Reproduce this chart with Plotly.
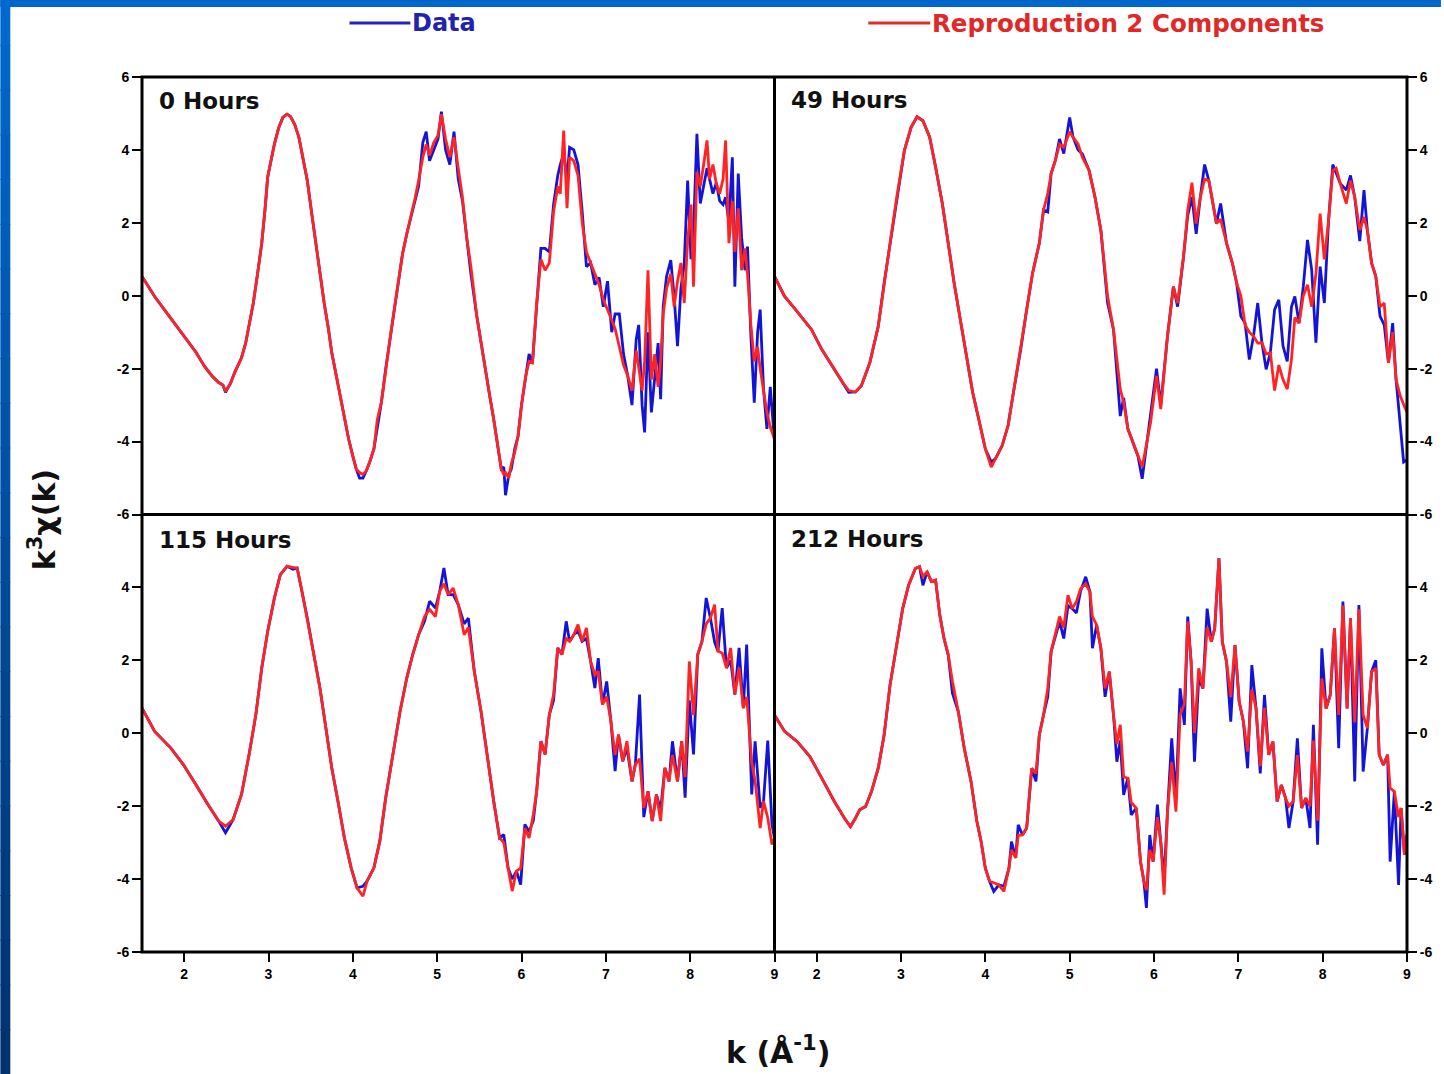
import plotly.graph_objects as go
from plotly.subplots import make_subplots

# ---------------- data ----------------
panel_titles = ["0 Hours", "49 Hours", "115 Hours", "212 Hours"]
x_tick_vals = [2, 3, 4, 5, 6, 7, 8, 9]
x_tick_text = ["2", "3", "4", "5", "6", "7", "8", "9"]
y_tick_vals_top = [-6, -4, -2, 0, 2, 4, 6]
y_tick_text_top = ["-6", "-4", "-2", "0", "2", "4", "6"]
y_tick_vals_bottom = [-6, -4, -2, 0, 2, 4]
y_tick_text_bottom = ["-6", "-4", "-2", "0", "2", "4"]

k_0h = [1.50,1.65,1.82,1.99,2.14,2.24,2.33,2.41,2.46,2.49,2.55,2.60,2.68,2.73,2.77,2.82,2.87,2.92,2.96,2.99,3.07,3.12,3.17,3.22,3.26,3.31,3.36,3.41,3.46,3.51,3.56,3.61,3.66,3.71,3.75,3.80,3.85,3.90,3.95,4.00,4.04,4.08,4.12,4.16,4.20,4.25,4.29,4.34,4.39,4.44,4.49,4.54,4.59,4.64,4.69,4.74,4.78,4.83,4.87,4.91,4.96,5.01,5.05,5.10,5.15,5.20,5.25,5.30,5.35,5.40,5.47,5.52,5.57,5.62,5.67,5.72,5.76,5.79,5.81,5.85,5.88,5.92,5.96,6.00,6.05,6.09,6.13,6.18,6.23,6.28,6.33,6.38,6.43,6.46,6.50,6.54,6.57,6.62,6.67,6.72,6.77,6.82,6.87,6.92,6.97,7.02,7.07,7.11,7.16,7.21,7.26,7.31,7.36,7.39,7.43,7.46,7.50,7.54,7.58,7.62,7.65,7.68,7.72,7.77,7.81,7.85,7.89,7.93,7.97,8.01,8.04,8.08,8.12,8.16,8.20,8.23,8.27,8.31,8.35,8.39,8.42,8.46,8.50,8.53,8.57,8.61,8.65,8.68,8.72,8.76,8.80,8.83,8.87,8.91,8.95,9.00]
data_0h = [0.53,-0.02,-0.55,-1.10,-1.55,-1.93,-2.20,-2.38,-2.45,-2.65,-2.40,-2.10,-1.70,-1.29,-0.80,-0.20,0.60,1.44,2.40,3.25,4.16,4.60,4.89,4.98,4.92,4.70,4.35,3.80,3.16,2.30,1.44,0.60,-0.20,-0.90,-1.56,-2.15,-2.75,-3.35,-3.93,-4.40,-4.75,-5.00,-5.00,-4.80,-4.56,-4.20,-3.65,-2.90,-2.00,-1.20,-0.38,0.40,1.16,1.70,2.16,2.70,3.00,4.20,4.50,3.70,4.00,4.30,5.05,4.00,3.60,4.50,3.20,2.60,1.60,0.60,-0.56,-1.30,-2.00,-2.70,-3.38,-4.10,-4.75,-4.70,-5.47,-4.90,-4.75,-4.20,-3.84,-3.00,-2.20,-1.60,-1.84,-0.20,1.30,1.30,1.20,2.50,3.30,3.60,3.90,3.20,4.07,4.00,3.60,2.30,0.80,0.90,0.30,0.50,-0.30,0.40,-1.00,-0.50,-0.50,-1.60,-2.20,-3.00,-1.20,-0.80,-3.00,-3.75,-1.00,-3.20,-2.20,-1.30,-2.84,-0.30,0.53,0.98,-0.02,-1.38,0.20,0.89,3.16,1.00,1.80,4.44,2.53,3.00,3.50,3.20,2.80,3.10,2.60,2.50,2.70,2.00,3.80,0.25,3.35,1.60,0.70,1.35,-1.10,-2.93,-1.00,-0.38,-2.56,-3.65,-2.50,-4.00]
fit_0h = [0.53,-0.02,-0.55,-1.10,-1.55,-1.93,-2.20,-2.38,-2.45,-2.62,-2.40,-2.10,-1.70,-1.29,-0.80,-0.20,0.60,1.44,2.40,3.25,4.16,4.60,4.89,4.98,4.92,4.70,4.35,3.80,3.16,2.30,1.44,0.60,-0.20,-0.90,-1.56,-2.15,-2.75,-3.35,-3.93,-4.40,-4.75,-4.85,-4.90,-4.80,-4.56,-4.20,-3.40,-2.90,-2.00,-1.20,-0.38,0.40,1.16,1.70,2.16,2.70,3.16,3.80,4.15,3.85,4.20,4.40,4.98,4.30,3.80,4.35,3.50,2.70,1.60,0.80,-0.56,-1.30,-2.00,-2.70,-3.38,-4.10,-4.75,-4.90,-4.85,-5.00,-4.60,-4.30,-3.84,-3.00,-2.20,-1.80,-1.84,-0.20,1.00,0.70,0.90,2.30,3.00,2.80,4.53,2.40,3.80,3.70,3.30,2.00,1.20,0.90,0.60,0.30,-0.10,-0.40,-0.70,-0.90,-1.40,-1.90,-2.20,-2.60,-1.50,-2.00,-2.60,-1.80,0.70,-2.30,-1.60,-2.50,-1.80,-0.50,0.20,0.60,-0.30,0.40,0.90,-0.20,1.50,2.50,0.25,3.40,3.00,3.60,4.26,3.20,3.60,3.07,2.80,3.20,4.26,1.44,2.60,1.20,2.40,0.70,1.30,0.60,-0.80,-1.80,-1.40,-2.00,-2.60,-3.20,-3.60,-3.93]

k_49h = [1.50,1.62,1.75,1.94,2.06,2.21,2.31,2.38,2.46,2.53,2.63,2.73,2.80,2.87,2.95,3.04,3.12,3.19,3.26,3.34,3.41,3.49,3.56,3.63,3.71,3.78,3.85,3.93,4.00,4.07,4.12,4.20,4.27,4.34,4.42,4.49,4.56,4.64,4.69,4.74,4.78,4.83,4.88,4.93,5.00,5.04,5.10,5.15,5.23,5.30,5.37,5.45,5.52,5.60,5.64,5.69,5.76,5.81,5.86,5.91,5.96,6.03,6.08,6.16,6.23,6.28,6.35,6.40,6.45,6.50,6.55,6.60,6.65,6.70,6.74,6.79,6.86,6.93,6.98,7.03,7.08,7.13,7.18,7.23,7.28,7.33,7.38,7.43,7.48,7.53,7.58,7.63,7.67,7.72,7.77,7.82,7.87,7.92,7.97,8.02,8.07,8.12,8.16,8.21,8.28,8.33,8.38,8.44,8.49,8.53,8.58,8.63,8.68,8.73,8.78,8.83,8.87,8.92,8.96,9.00]
data_49h = [0.53,-0.02,-0.38,-0.93,-1.47,-2.02,-2.38,-2.65,-2.64,-2.47,-1.84,-0.84,0.35,1.44,2.71,3.98,4.62,4.91,4.80,4.35,3.53,2.53,1.44,0.35,-0.75,-1.75,-2.65,-3.47,-4.20,-4.56,-4.47,-4.11,-3.56,-2.56,-1.47,-0.38,0.62,1.44,2.35,2.30,3.35,3.71,4.30,3.90,4.89,4.35,4.00,3.89,3.44,2.71,1.80,-0.20,-0.93,-3.30,-2.80,-3.65,-4.11,-4.40,-5.02,-4.11,-3.30,-2.00,-3.00,-1.11,0.25,-0.30,1.07,2.20,2.71,1.70,2.71,3.60,3.16,2.53,1.98,2.53,1.44,0.89,0.35,-0.56,-0.75,-1.75,-1.11,-0.20,-1.29,-2.02,-1.56,-0.38,-0.11,-1.38,-1.80,-0.30,-0.02,-0.75,0.25,1.53,0.71,-1.29,0.80,-0.20,2.07,3.60,3.35,3.07,2.90,3.30,2.71,1.50,2.90,1.80,0.90,0.53,-0.56,-0.80,-1.84,-0.75,-2.29,-3.50,-4.56,-4.50]
fit_49h = [0.53,-0.02,-0.38,-0.93,-1.47,-2.02,-2.38,-2.60,-2.64,-2.47,-1.84,-0.84,0.35,1.44,2.71,3.98,4.62,4.91,4.80,4.35,3.53,2.53,1.44,0.35,-0.75,-1.75,-2.65,-3.47,-4.20,-4.70,-4.47,-4.11,-3.56,-2.56,-1.47,-0.38,0.62,1.44,2.35,2.80,3.35,3.71,4.16,4.07,4.50,4.35,4.16,3.80,3.44,2.71,1.80,-0.02,-0.93,-2.56,-2.93,-3.65,-4.11,-4.38,-4.70,-4.11,-3.47,-2.20,-3.11,-1.11,0.25,-0.20,1.07,2.35,3.10,1.98,2.71,3.20,3.16,2.53,1.98,2.10,1.44,0.89,0.35,0.00,-0.80,-1.00,-1.11,-1.30,-1.29,-1.60,-1.56,-2.60,-1.90,-2.30,-2.56,-1.75,-0.60,-0.75,0.00,0.30,-0.30,0.60,2.25,1.00,2.07,3.44,3.50,3.07,2.53,3.16,2.71,1.80,2.16,1.80,0.89,0.53,-0.30,-0.20,-1.84,-1.00,-2.29,-2.75,-3.00,-3.20]

k_115h = [1.50,1.65,1.84,1.99,2.14,2.28,2.41,2.49,2.58,2.68,2.77,2.85,2.92,2.99,3.07,3.14,3.22,3.29,3.34,3.39,3.46,3.53,3.61,3.68,3.75,3.83,3.90,3.98,4.05,4.12,4.17,4.25,4.32,4.39,4.49,4.56,4.64,4.71,4.78,4.85,4.91,4.98,5.03,5.08,5.13,5.19,5.25,5.32,5.37,5.44,5.52,5.59,5.67,5.74,5.79,5.84,5.89,5.94,5.99,6.04,6.09,6.14,6.18,6.23,6.28,6.33,6.38,6.43,6.48,6.53,6.57,6.62,6.67,6.72,6.77,6.82,6.87,6.91,6.96,7.01,7.06,7.11,7.15,7.20,7.25,7.31,7.35,7.40,7.45,7.50,7.55,7.60,7.65,7.70,7.75,7.79,7.85,7.90,7.94,7.99,8.04,8.09,8.14,8.19,8.24,8.29,8.33,8.38,8.43,8.48,8.53,8.58,8.63,8.67,8.73,8.77,8.83,8.87,8.92,8.97,9.00]
data_115h = [0.69,0.05,-0.40,-0.86,-1.41,-1.95,-2.41,-2.73,-2.37,-1.68,-0.58,0.51,1.79,2.79,3.71,4.35,4.58,4.50,4.53,3.98,3.16,2.25,1.24,0.15,-0.95,-1.95,-2.87,-3.69,-4.24,-4.20,-4.05,-3.69,-2.96,-1.77,-0.40,0.60,1.52,2.16,2.70,3.07,3.62,3.43,3.89,4.53,3.80,3.80,3.53,3.00,3.16,1.70,0.60,-0.58,-1.86,-2.87,-2.78,-3.69,-4.00,-3.78,-4.15,-2.50,-2.70,-2.40,-1.59,-0.22,-0.58,0.51,0.90,2.34,2.16,3.07,2.52,2.70,2.80,2.52,2.60,1.97,1.24,2.06,0.79,1.42,0.33,-1.04,-0.04,-0.77,-0.40,-1.32,-0.86,1.06,-2.30,-1.59,-2.41,-1.68,-2.10,-0.95,-1.32,-0.22,-1.32,-0.22,-1.77,0.90,-0.58,2.16,2.52,3.71,3.16,2.50,2.25,3.43,1.79,2.00,1.06,2.34,0.69,2.43,-1.68,-0.22,-2.05,-1.86,-0.20,-2.50,-2.87]
fit_115h = [0.69,0.05,-0.40,-0.86,-1.41,-1.95,-2.41,-2.55,-2.37,-1.68,-0.58,0.51,1.79,2.79,3.71,4.35,4.58,4.55,4.53,3.98,3.16,2.25,1.24,0.15,-0.95,-1.95,-2.87,-3.69,-4.24,-4.47,-4.05,-3.69,-2.96,-1.77,-0.40,0.60,1.52,2.16,2.70,3.20,3.40,3.20,3.89,4.10,3.80,3.98,3.53,2.70,2.90,1.70,0.60,-0.58,-1.86,-2.87,-3.00,-3.69,-4.33,-3.78,-3.70,-2.60,-2.87,-2.23,-1.59,-0.22,-0.58,0.51,1.06,2.34,2.16,2.60,2.52,2.70,2.98,2.52,2.89,1.97,1.60,1.70,0.79,1.00,0.33,-0.60,-0.04,-0.77,-0.22,-1.32,-0.86,-0.70,-2.05,-1.59,-2.41,-1.68,-2.41,-0.95,-1.32,-0.60,-1.32,-0.22,-1.20,1.97,0.50,2.16,2.52,3.00,3.16,3.53,2.25,2.20,1.79,2.34,1.06,1.80,0.69,1.00,-0.80,-1.30,-2.60,-1.86,-2.32,-3.05,-2.87]

k_212h = [1.50,1.62,1.77,1.92,2.06,2.21,2.33,2.40,2.46,2.51,2.58,2.65,2.73,2.80,2.87,2.95,3.02,3.09,3.17,3.22,3.26,3.31,3.36,3.41,3.46,3.51,3.56,3.61,3.68,3.75,3.83,3.90,3.95,4.00,4.05,4.10,4.16,4.22,4.28,4.31,4.36,4.39,4.44,4.49,4.55,4.60,4.64,4.69,4.74,4.78,4.83,4.88,4.93,4.98,5.03,5.08,5.13,5.19,5.24,5.27,5.32,5.37,5.42,5.47,5.52,5.56,5.60,5.64,5.69,5.73,5.79,5.84,5.88,5.91,5.95,5.99,6.04,6.08,6.12,6.16,6.21,6.26,6.31,6.36,6.40,6.44,6.48,6.53,6.58,6.63,6.68,6.72,6.77,6.81,6.86,6.91,6.96,7.01,7.06,7.11,7.16,7.21,7.26,7.31,7.36,7.41,7.46,7.51,7.56,7.60,7.65,7.70,7.75,7.80,7.85,7.89,7.94,7.99,8.04,8.09,8.14,8.19,8.24,8.29,8.33,8.38,8.43,8.48,8.53,8.58,8.63,8.67,8.72,8.77,8.80,8.85,8.90,8.93,8.97,9.00]
data_212h = [0.50,0.05,-0.23,-0.64,-1.23,-1.87,-2.33,-2.56,-2.33,-2.10,-2.01,-1.60,-0.96,-0.05,1.32,2.51,3.42,4.06,4.52,4.57,4.06,4.43,4.16,4.20,3.24,2.60,2.15,1.10,0.59,-0.41,-1.32,-2.42,-2.97,-3.70,-4.06,-4.34,-4.16,-4.20,-3.70,-2.97,-3.42,-2.51,-2.79,-2.60,-0.96,-1.32,-0.05,0.50,1.00,2.24,2.69,3.06,2.60,3.50,3.42,3.30,3.90,4.29,3.88,2.33,2.97,2.33,1.00,1.69,0.50,-0.78,-0.20,-1.69,-1.23,-2.24,-2.05,-3.52,-4.06,-4.79,-2.79,-3.52,-1.96,-2.97,-4.00,-2.15,-0.14,-1.80,1.23,0.23,3.20,1.96,-0.78,1.50,1.23,3.42,2.51,2.88,4.80,2.51,1.96,0.32,2.42,0.87,0.32,-0.96,1.87,0.68,-1.10,1.05,-0.59,-0.23,-1.87,-1.42,-1.78,-2.60,-1.87,-0.14,-2.05,-1.78,-2.60,0.23,-3.06,2.33,0.68,1.05,2.88,-0.41,3.61,0.68,3.15,-1.32,3.52,-1.05,0.14,1.69,2.00,-0.59,-0.87,-0.59,-3.52,-1.60,-4.16,-2.05,-3.33,-2.79]
fit_212h = [0.50,0.05,-0.23,-0.64,-1.23,-1.87,-2.33,-2.56,-2.33,-2.10,-2.01,-1.60,-0.96,-0.05,1.32,2.51,3.42,4.06,4.52,4.57,4.30,4.43,4.16,4.20,3.24,2.60,2.15,1.42,0.59,-0.41,-1.32,-2.42,-2.97,-3.70,-4.06,-4.10,-4.16,-4.34,-3.70,-3.20,-3.42,-2.80,-2.79,-2.60,-0.96,-1.10,-0.05,0.50,1.23,2.24,2.69,3.20,2.90,3.79,3.42,3.61,3.97,4.10,3.88,3.20,2.97,2.33,1.23,1.69,0.50,-0.30,0.23,-1.20,-1.23,-1.90,-2.05,-3.52,-4.06,-4.30,-3.20,-3.52,-2.30,-2.97,-4.43,-2.15,-0.80,-2.15,0.50,0.80,3.06,1.96,0.00,1.78,1.23,2.90,2.51,2.88,4.79,2.51,1.96,1.00,2.42,0.87,0.32,-0.50,1.20,0.68,-0.90,0.70,-0.59,-0.23,-1.87,-1.42,-1.78,-2.00,-1.87,-0.60,-2.05,-1.78,-2.00,-0.20,-2.40,1.50,0.68,1.05,2.88,0.50,3.50,0.68,3.15,0.30,3.40,0.50,0.14,1.69,1.78,-0.59,-0.87,-0.59,-1.50,-1.60,-2.30,-2.05,-3.33,-2.79]

# ---------------- styling ----------------
BLUE = "#1414d8"
RED = "#ff2424"
FONT = "DejaVu Sans"
TICKFONT = dict(family="Liberation Sans", size=14, color="black", weight="bold")

W, H = 1444, 1074
ML, MR, MT, MB = 142, 34, 77, 122
PW, PH = W - ML - MR, H - MT - MB


def px_x(p):
    return (p - ML) / PW


def px_y(p):
    return (H - MB - p) / PH


panels = [
    (panel_titles[0], k_0h, data_0h, fit_0h, 1, 1),
    (panel_titles[1], k_49h, data_49h, fit_49h, 1, 2),
    (panel_titles[2], k_115h, data_115h, fit_115h, 2, 1),
    (panel_titles[3], k_212h, data_212h, fit_212h, 2, 2),
]

fig = make_subplots(rows=2, cols=2, horizontal_spacing=0, vertical_spacing=0)

for title, k, d, f, r, c in panels:
    assert len(k) == len(d) == len(f), (title, len(k), len(d), len(f))
    fig.add_trace(go.Scatter(x=k, y=d, mode="lines", name="Data",
                             line=dict(color=BLUE, width=2.8), showlegend=False),
                  row=r, col=c)
    fig.add_trace(go.Scatter(x=k, y=f, mode="lines", name="Reproduction 2 Components",
                             line=dict(color=RED, width=2.8), showlegend=False),
                  row=r, col=c)

axis_common = dict(showline=False, showgrid=False, zeroline=False)

for r in (1, 2):
    for c in (1, 2):
        if r == 1:
            fig.update_xaxes(range=[1.5, 9], ticks="", showticklabels=False,
                             row=r, col=c, **axis_common)
        else:
            fig.update_xaxes(range=[1.5, 9], tickvals=x_tick_vals, ticktext=x_tick_text,
                             ticks="outside", ticklen=9, tickwidth=2, tickcolor="black",
                             tickfont=TICKFONT, row=r, col=c, **axis_common)
        yv = y_tick_vals_top if r == 1 else y_tick_vals_bottom
        yt = y_tick_text_top if r == 1 else y_tick_text_bottom
        fig.update_yaxes(range=[-6, 6], tickvals=yv, ticktext=yt, ticks="outside",
                         ticklen=9, tickwidth=2, tickcolor="black", tickfont=TICKFONT,
                         side="left" if c == 1 else "right",
                         row=r, col=c, **axis_common)

# panel labels
title_pos = [(157, 101), (791, 100), (157, 540), (791, 539)]
annotations = []
for (t, _, _, _, _, _), (xp, yp) in zip(panels, title_pos):
    annotations.append(dict(x=px_x(xp), y=px_y(yp), xref="paper", yref="paper",
                            text=t, showarrow=False, xanchor="left", yanchor="middle",
                            font=dict(family=FONT, size=23, color="#111111", weight="bold")))

# axis titles
annotations.append(dict(x=px_x(42), y=px_y(520), xref="paper", yref="paper",
                        text="k<sup>3</sup>χ(k)", textangle=-90, showarrow=False,
                        xanchor="center", yanchor="middle",
                        font=dict(family=FONT, size=30, color="#111111", weight="bold")))
annotations.append(dict(x=px_x(780), y=px_y(1050), xref="paper", yref="paper",
                        text="k (Å<sup>-1</sup>)", showarrow=False,
                        xanchor="center", yanchor="middle",
                        font=dict(family=FONT, size=30, color="#111111", weight="bold")))

# legend entries
annotations.append(dict(x=px_x(411), y=px_y(23), xref="paper", yref="paper",
                        text="Data", showarrow=False, xanchor="left", yanchor="middle",
                        font=dict(family=FONT, size=24, color="#2222b0", weight="bold")))
annotations.append(dict(x=px_x(932), y=px_y(23), xref="paper", yref="paper",
                        text="Reproduction 2 Components", showarrow=False,
                        xanchor="left", yanchor="middle",
                        font=dict(family=FONT, size=24.5, color="#e02828", weight="bold")))

FRAME = dict(color="black", width=3)
shapes = [
    dict(type="line", xref="paper", yref="paper", x0=px_x(350), x1=px_x(411),
         y0=px_y(23), y1=px_y(23), line=dict(color="#2222c8", width=3)),
    dict(type="line", xref="paper", yref="paper", x0=px_x(870), x1=px_x(932),
         y0=px_y(23), y1=px_y(23), line=dict(color="#e82828", width=3)),
    # panel frame
    dict(type="rect", xref="paper", yref="paper", x0=0, x1=1, y0=0, y1=1, line=FRAME),
    dict(type="line", xref="paper", yref="paper", x0=0.5, x1=0.5, y0=0, y1=1, line=FRAME),
    dict(type="line", xref="paper", yref="paper", x0=0, x1=1, y0=0.5, y1=0.5, line=FRAME),
    # blue frame: top strip
    dict(type="rect", xref="paper", yref="paper", x0=px_x(0), x1=px_x(W),
         y0=px_y(7), y1=px_y(0), fillcolor="#0066cc", line=dict(width=0), layer="below"),
]
# blue frame: left strip with a vertical gradient
n_seg = 24
top_rgb = (0, 104, 206)
bot_rgb = (0, 50, 112)
for i in range(n_seg):
    t = i / (n_seg - 1)
    col = "rgb(%d,%d,%d)" % tuple(int(a + (b - a) * t) for a, b in zip(top_rgb, bot_rgb))
    y0p = H * i / n_seg
    y1p = H * (i + 1) / n_seg
    shapes.append(dict(type="rect", xref="paper", yref="paper", x0=px_x(0), x1=px_x(10),
                       y0=px_y(y1p + 1), y1=px_y(y0p), fillcolor=col,
                       line=dict(width=0), layer="below"))

fig.update_layout(
    width=W, height=H,
    margin=dict(l=ML, r=MR, t=MT, b=MB),
    paper_bgcolor="white", plot_bgcolor="white",
    showlegend=False,
    annotations=annotations,
    shapes=shapes,
)

fig.write_html("out.html",
               config={"displayModeBar": False},
               post_script="document.body.style.margin='0';document.body.style.overflow='hidden';")
